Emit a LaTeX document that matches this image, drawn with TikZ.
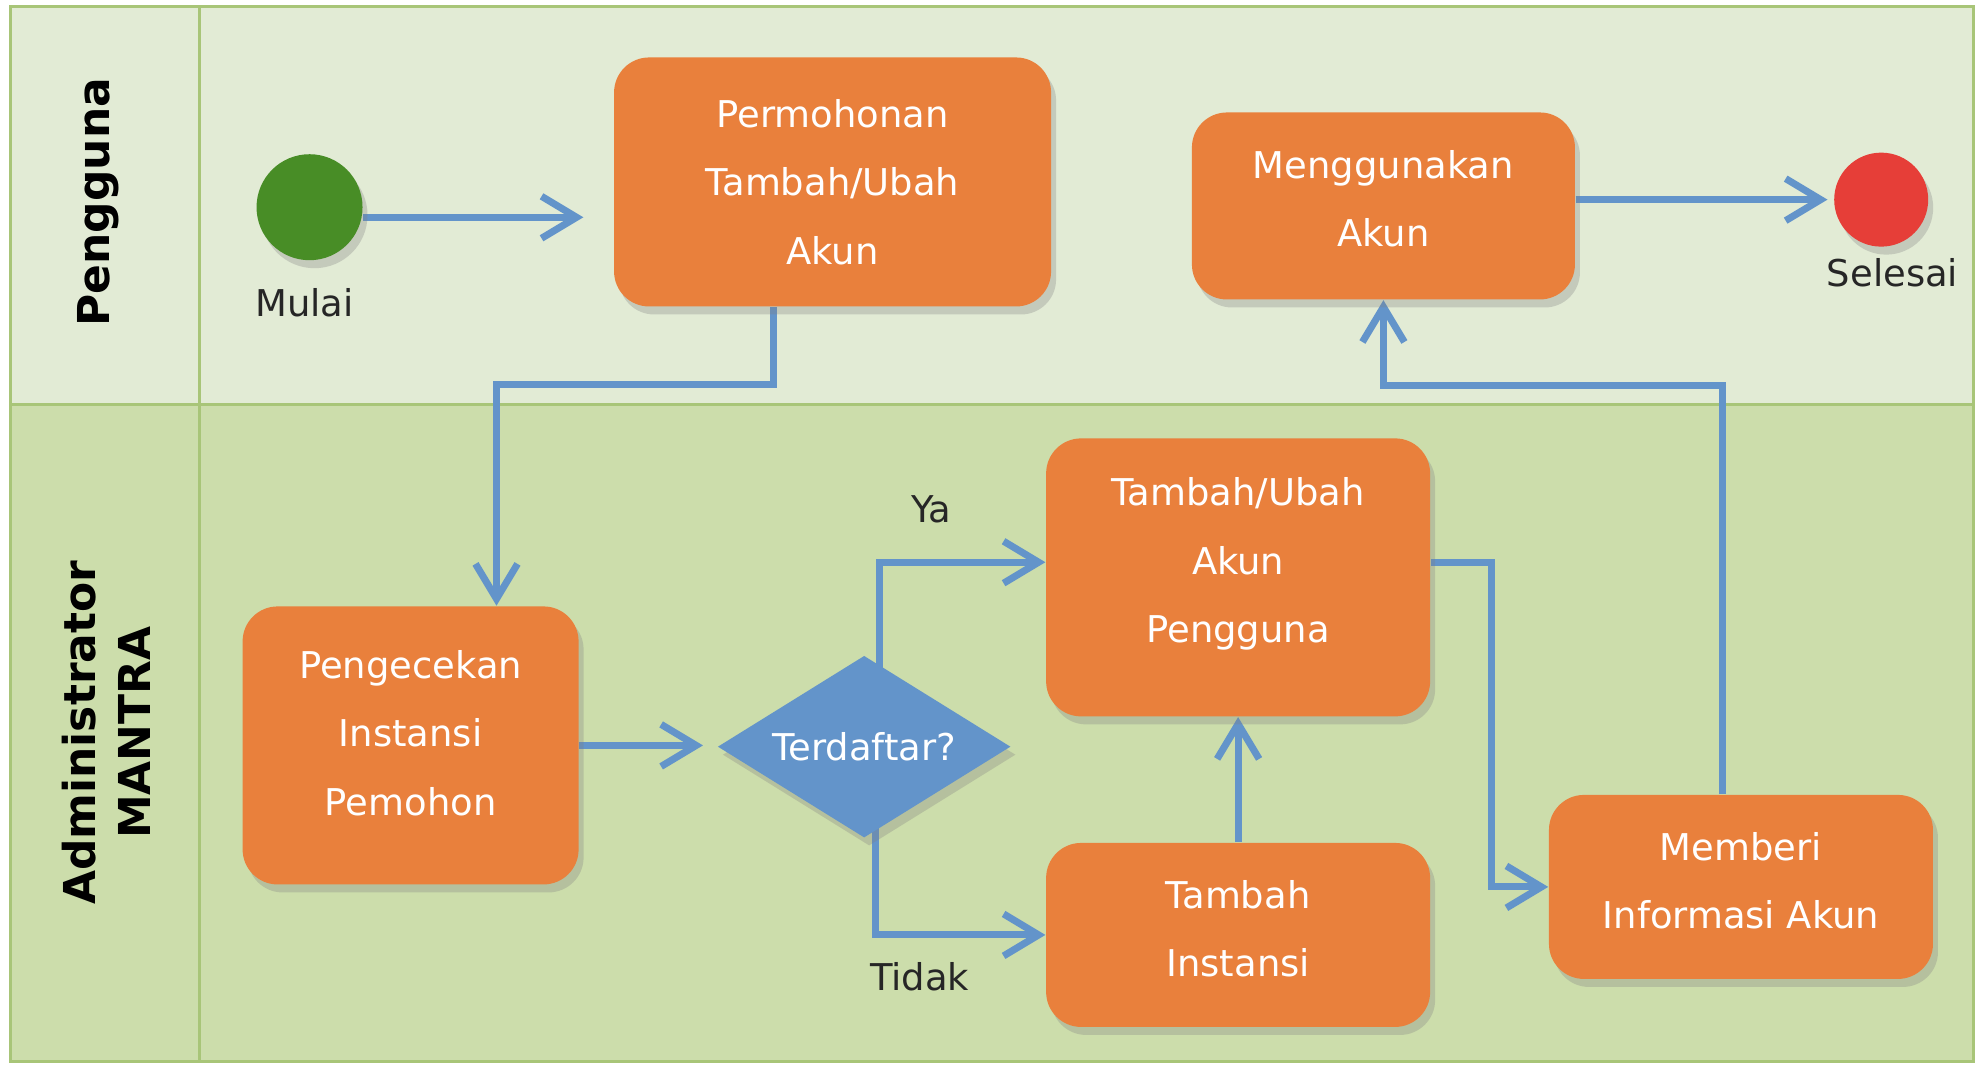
\documentclass[tikz,border=0pt]{standalone}
\usepackage{fontspec}
\setmainfont{DejaVu Sans}
\usetikzlibrary{arrows.meta,shapes.geometric,shadows,calc}

\definecolor{laneA}{RGB}{226,235,213}
\definecolor{laneB}{RGB}{204,221,171}
\definecolor{laneline}{RGB}{168,197,120}
\definecolor{boxorange}{RGB}{233,128,60}
\definecolor{flowblue}{RGB}{99,148,202}
\definecolor{startgreen}{RGB}{72,141,38}
\definecolor{stopred}{RGB}{230,62,56}

% invisible depth on the last line, lifts the text a bit inside its box
\newcommand{\textdrop}[1]{\rule[-#1]{0pt}{0pt}}

\pgfdeclarelayer{lanes}
\pgfdeclarelayer{links}
\pgfsetlayers{lanes,links,main}

\tikzset{
  shade/.style={drop shadow={shadow xshift=0.5mm, shadow yshift=-0.8mm, opacity=0.3}},
  task/.style={rectangle, rounded corners=0.35cm, fill=boxorange, text=white,
    align=center, inner sep=0pt, shade,
    font=\fontsize{10.5}{19.5}\selectfont},
  check/.style={diamond, aspect=1.6, fill=flowblue, text=white, inner sep=0pt,
    minimum width=2.93cm, minimum height=1.82cm, shade,
    font=\fontsize{10.5}{13}\selectfont},
  terminal/.style={circle, inner sep=0pt, shade},
  caption/.style={font=\fontsize{10.5}{13}\selectfont, text=black!85},
  lanehead/.style={rotate=90, align=center, font=\bfseries\fontsize{12.5}{15.5}\selectfont},
  flow/.style={draw=flowblue, line width=2pt,
    -{Straight Barb[length=3.5mm, width=4.2mm]}}
}

\begin{document}
\begin{tikzpicture}[x=0.12634mm, y=-0.12634mm]
  \useasboundingbox (0,0) rectangle (1568,844);

  % lanes
  \begin{pgfonlayer}{lanes}
    \fill[white] (0,0) rectangle (1568,844);
    \fill[laneA] (8,5) rectangle (1562,320);
    \fill[laneB] (8,320) rectangle (1562,840);
    \draw[laneline, line width=0.8pt] (8,5) rectangle (1562,840);
    \draw[laneline, line width=0.8pt] (8,320) -- (1562,320) (158,5) -- (158,840);
  \end{pgfonlayer}

  \node[lanehead] (hdrA) at (78,160) {Pengguna};
  \node[lanehead] (hdrB) at (84,580) {Administrator\\MANTRA};

  % nodes
  \node[terminal, fill=startgreen, minimum size=1.06cm] (start) at (245,164) {};
  \node[caption] (lblStart) at (241,240) {Mulai};
  \node[task, minimum width=4.37cm, minimum height=2.49cm] (perm) at (659,144)
    {Permohonan\\Tambah/Ubah\\Akun};
  \node[task, minimum width=3.83cm, minimum height=1.87cm] (guna) at (1095,163)
    {Menggunakan\\Akun\textdrop{4.3pt}};
  \node[terminal, fill=stopred, minimum size=0.94cm] (stop) at (1489,158) {};
  \node[caption] (lblStop) at (1498,216) {Selesai};

  \node[task, minimum width=3.36cm, minimum height=2.78cm] (cek) at (325,590)
    {Pengecekan\\Instansi\\Pemohon\textdrop{7.2pt}};
  \node[check] (dec) at (684,591) {Terdaftar?};
  \node[task, minimum width=3.84cm, minimum height=2.78cm] (ubah) at (980,457)
    {Tambah/Ubah\\Akun\\Pengguna\textdrop{9.7pt}};
  \node[task, minimum width=3.84cm, minimum height=1.84cm] (inst) at (980,740)
    {Tambah\\Instansi\textdrop{3.6pt}};
  \node[task, minimum width=3.84cm, minimum height=1.84cm] (info) at (1378,702)
    {Memberi\\Informasi Akun\textdrop{3.6pt}};

  \node[caption] (lblYa) at (737,403) {Ya};
  \node[caption] (lblNo) at (728,773) {Tidak};

  \coordinate (bendA) at (393,304);
  \coordinate (bendB) at (1363,305);

  % connectors
  \begin{pgfonlayer}{links}
    \draw[flow, shorten >=0.3cm] ($(start.east)+(0,8)$) -- ($(start.east -| perm.west)+(0,8)$);
    \draw[flow] ($(perm.south)+(-47,0)$) |- (bendA) -- (bendA |- cek.north);
    \draw[flow, shorten >=0.14cm] (cek.east) -- (cek.east -| dec.west);
    \draw[flow] ($(dec.center)+(12,0)$) |- ($(ubah.west)+(0,-12)$);
    \draw[flow] ($(dec.center)+(9,0)$) |- (inst.west);
    \draw[flow] (inst.north) -- (ubah.south);
    \draw[flow] ($(ubah.east)+(0,-12)$) -- ++(48,0) |- (info.west);
    \draw[flow] (bendB |- info.north) -- (bendB) -| (guna.south);
    \draw[flow, shorten >=0.06cm] (guna.east |- stop.west) -- (stop.west);
  \end{pgfonlayer}
\end{tikzpicture}
\end{document}
